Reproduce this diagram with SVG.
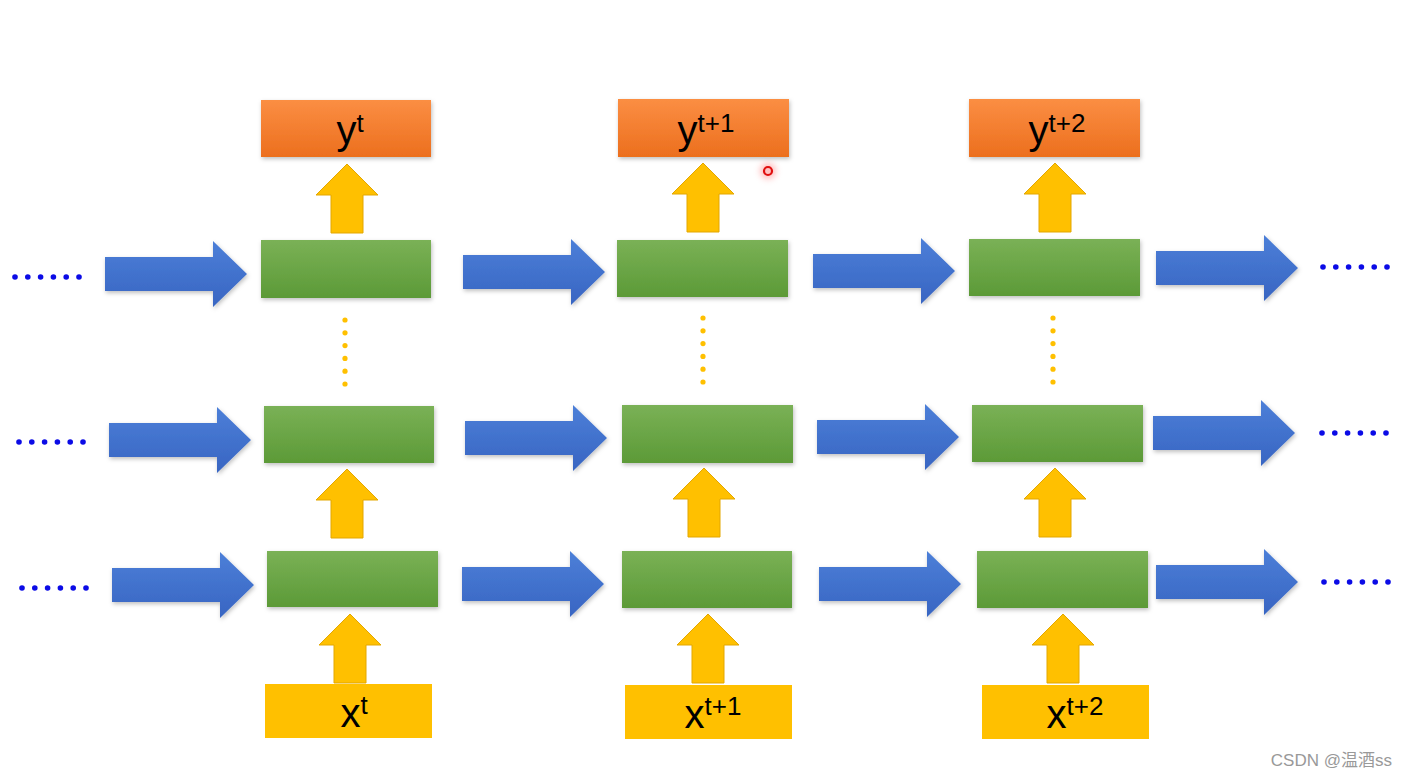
<svg xmlns="http://www.w3.org/2000/svg" xmlns:xlink="http://www.w3.org/1999/xlink" width="1407" height="778" viewBox="0 0 1407 778">
<defs>
<linearGradient id="gGreen" x1="0" y1="0" x2="0" y2="1"><stop offset="0" stop-color="#7AB156"/><stop offset="1" stop-color="#5C9A37"/></linearGradient>
<linearGradient id="gOrange" x1="0" y1="0" x2="0" y2="1"><stop offset="0" stop-color="#FB8E43"/><stop offset="1" stop-color="#EC6F1E"/></linearGradient>
<linearGradient id="gBlue" x1="0" y1="0" x2="0" y2="1"><stop offset="0" stop-color="#4C7FD8"/><stop offset="1" stop-color="#3865C2"/></linearGradient>
<filter id="sh" x="-10%" y="-20%" width="120%" height="150%"><feDropShadow dx="1" dy="2" stdDeviation="2" flood-color="#000" flood-opacity="0.25"/></filter>
<filter id="glow" x="-100%" y="-100%" width="300%" height="300%"><feGaussianBlur stdDeviation="3"/></filter>
<path id="blueArrow" d="M0,-17 H108 V-33 L142,0 L108,33 V17 H0 Z" fill="url(#gBlue)" filter="url(#sh)"/>
<path id="upArrow" d="M0,0 L31,31 H16 V69 H-16 V31 H-31 Z" fill="#FFC000" stroke="#E3A700" stroke-width="1"/>
<g id="dots6" fill="#0B0BE6"><circle cx="0" cy="0" r="2.8"/><circle cx="12.8" cy="0" r="2.8"/><circle cx="25.6" cy="0" r="2.8"/><circle cx="38.4" cy="0" r="2.8"/><circle cx="51.2" cy="0" r="2.8"/><circle cx="64" cy="0" r="2.8"/></g>
<g id="vdots" fill="#FFC000"><circle cx="0" cy="0" r="2.6"/><circle cx="0" cy="12.8" r="2.6"/><circle cx="0" cy="25.6" r="2.6"/><circle cx="0" cy="38.4" r="2.6"/><circle cx="0" cy="51.2" r="2.6"/><circle cx="0" cy="64" r="2.6"/></g>
</defs>
<style>
.green{fill:url(#gGreen);filter:url(#sh)}
.orange{fill:url(#gOrange);filter:url(#sh)}
.yellow{fill:#FFC000}
.lbl{font-family:"Liberation Sans",Arial,sans-serif;font-size:40px;fill:#000;text-anchor:middle}
.sup{font-size:26px}
</style>
<rect width="1407" height="778" fill="#fff"/>

<g id="connectors">
<use href="#blueArrow" x="105" y="274"/>
<use href="#blueArrow" x="463" y="272"/>
<use href="#blueArrow" x="813" y="271"/>
<use href="#blueArrow" x="1156" y="268"/>
<use href="#blueArrow" x="109" y="440"/>
<use href="#blueArrow" x="465" y="438"/>
<use href="#blueArrow" x="817" y="437"/>
<use href="#blueArrow" x="1153" y="433"/>
<use href="#blueArrow" x="112" y="585"/>
<use href="#blueArrow" x="462" y="584"/>
<use href="#blueArrow" x="819" y="584"/>
<use href="#blueArrow" x="1156" y="582"/>
<use href="#upArrow" x="347" y="164"/>
<use href="#upArrow" x="703" y="163"/>
<use href="#upArrow" x="1055" y="163"/>
<use href="#upArrow" x="347" y="469"/>
<use href="#upArrow" x="704" y="468"/>
<use href="#upArrow" x="1055" y="468"/>
<use href="#upArrow" x="350" y="614"/>
<use href="#upArrow" x="708" y="614"/>
<use href="#upArrow" x="1063" y="614"/>
<use href="#vdots" x="345" y="320"/>
<use href="#vdots" x="703" y="318"/>
<use href="#vdots" x="1053" y="318"/>
<use href="#dots6" x="15" y="277"/>
<use href="#dots6" x="1323" y="267"/>
<use href="#dots6" x="19" y="442"/>
<use href="#dots6" x="1322" y="433"/>
<use href="#dots6" x="22" y="588"/>
<use href="#dots6" x="1324" y="582"/>
</g>

<g id="y_t"><rect class="orange" x="261" y="100" width="170" height="57"/><text class="lbl" x="350" y="144">y<tspan class="sup" dy="-12">t</tspan></text></g>
<g id="y_t1"><rect class="orange" x="618" y="99" width="171" height="58"/><text class="lbl" x="706" y="144">y<tspan class="sup" dy="-12">t+1</tspan></text></g>
<g id="y_t2"><rect class="orange" x="969" y="99" width="171" height="58"/><text class="lbl" x="1057" y="144">y<tspan class="sup" dy="-12">t+2</tspan></text></g>

<g id="h1_t"><rect class="green" x="261" y="240" width="170" height="58"/></g>
<g id="h1_t1"><rect class="green" x="617" y="240" width="171" height="57"/></g>
<g id="h1_t2"><rect class="green" x="969" y="239" width="171" height="57"/></g>
<g id="h2_t"><rect class="green" x="264" y="406" width="170" height="57"/></g>
<g id="h2_t1"><rect class="green" x="622" y="405" width="171" height="58"/></g>
<g id="h2_t2"><rect class="green" x="972" y="405" width="171" height="57"/></g>
<g id="h3_t"><rect class="green" x="267" y="551" width="171" height="56"/></g>
<g id="h3_t1"><rect class="green" x="622" y="551" width="170" height="57"/></g>
<g id="h3_t2"><rect class="green" x="977" y="551" width="171" height="57"/></g>

<g id="x_t"><rect class="yellow" x="265" y="684" width="167" height="54"/><text class="lbl" x="354" y="727">x<tspan class="sup" dy="-13">t</tspan></text></g>
<g id="x_t1"><rect class="yellow" x="625" y="685" width="167" height="54"/><text class="lbl" x="713" y="728">x<tspan class="sup" dy="-13">t+1</tspan></text></g>
<g id="x_t2"><rect class="yellow" x="982" y="685" width="167" height="54"/><text class="lbl" x="1075" y="728">x<tspan class="sup" dy="-13">t+2</tspan></text></g>

<g id="cursor"><circle cx="768" cy="171" r="8" fill="#ff8080" opacity="0.5" filter="url(#glow)"/><circle cx="768" cy="171" r="4" fill="none" stroke="#e01010" stroke-width="2.2"/></g>
<text x="1392" y="766" font-family="'Liberation Sans','Noto Sans CJK SC',sans-serif" font-size="17" fill="#999" text-anchor="end">CSDN @温酒ss</text>
</svg>
